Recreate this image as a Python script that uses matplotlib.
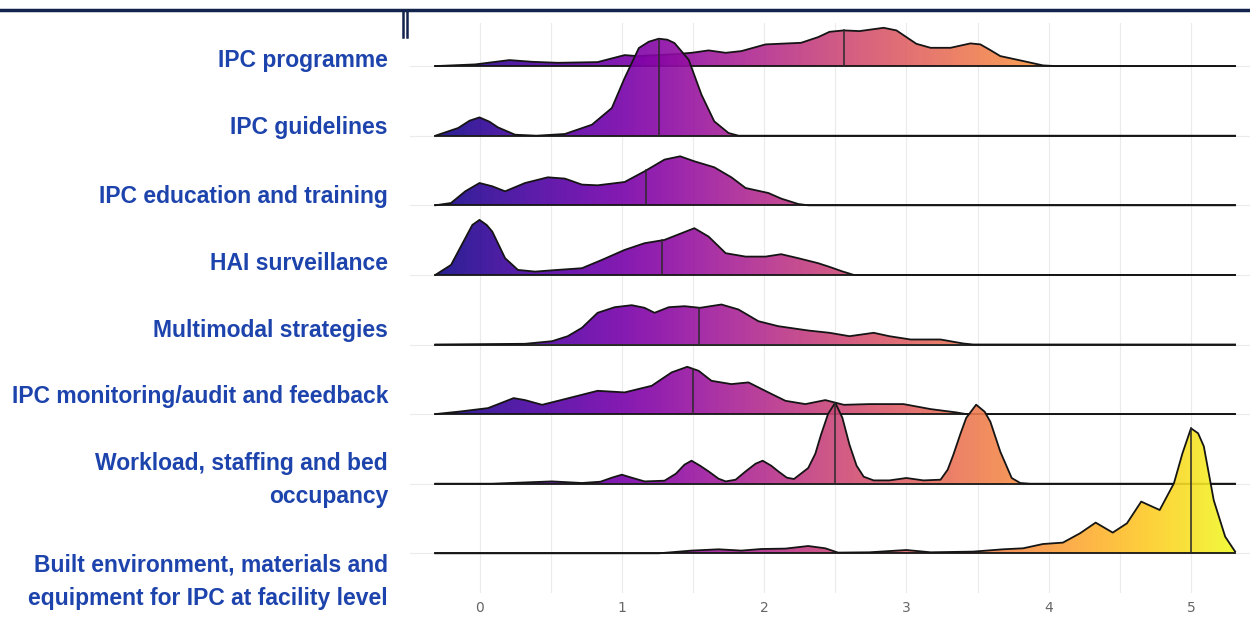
import numpy as np
import matplotlib
matplotlib.use("Agg")
import matplotlib.pyplot as plt
from matplotlib.patches import Polygon
from matplotlib.lines import Line2D

## data: ridge densities (relative heights) ##
labels = ["IPC programme", "IPC guidelines", "IPC education and training",
          "HAI surveillance", "Multimodal strategies",
          "IPC monitoring/audit and feedback",
          "Workload, staffing and bed\noccupancy",
          "Built environment, materials and\nequipment for IPC at facility level"]

x_prog = [-0.31, -0.03, 0.21, 0.37, 0.55, 0.83, 0.93, 1.02, 1.11, 1.25, 1.38, 1.49, 1.61, 1.73, 1.84,
          2.01, 2.26, 2.38, 2.46, 2.56, 2.67, 2.84, 2.93, 3.0, 3.07, 3.17, 3.31, 3.45, 3.52, 3.59, 3.66,
          3.80, 3.96, 4.05, 5.31]
d_prog = [0, 1.7, 6, 4.3, 3.3, 4, 7.7, 11, 10, 11, 12, 13.3, 15.7, 13.3, 15,
          21.7, 23.3, 29, 34.3, 35.7, 35, 38.3, 35.7, 29, 22.3, 18.3, 18.3, 22.7, 21.7, 16, 10,
          5.7, 0.7, 0, 0]

x_guide = [-0.31, -0.15, -0.07, 0.0, 0.07, 0.13, 0.25, 0.4, 0.6, 0.79, 0.93, 1.02, 1.12, 1.19, 1.26,
           1.32, 1.37, 1.47, 1.56, 1.65, 1.75, 1.82, 5.31]
d_guide = [0, 7.7, 15, 18.3, 14, 8.3, 1, 0, 1.7, 11, 27.7, 57.7, 87.7, 94, 97,
           96, 92.7, 76, 41, 14.3, 2.7, 0, 0]

x_edu = [-0.31, -0.2, -0.1, 0.0, 0.09, 0.18, 0.32, 0.48, 0.6, 0.72, 0.83, 1.02, 1.16, 1.30, 1.41,
         1.51, 1.65, 1.77, 1.87, 2.03, 2.12, 2.24, 2.31, 5.31]
d_edu = [0, 2.3, 14, 22.3, 19, 14, 22.3, 28, 26.7, 20.7, 20, 23.3, 34, 45.7, 49,
         44, 38, 28, 17.3, 12.3, 6.7, 1.3, 0, 0]

x_hai = [-0.31, -0.2, -0.1, -0.05, 0.0, 0.05, 0.09, 0.18, 0.27, 0.39, 0.55, 0.72, 0.86, 1.02, 1.16,
         1.30, 1.42, 1.51, 1.61, 1.73, 1.87, 2.01, 2.12, 2.24, 2.38, 2.46, 2.55, 2.63, 5.31]
d_hai = [0, 10, 36.7, 50, 55, 50, 43.3, 16.7, 5, 3.3, 5, 6.7, 15, 25, 31.7,
         35, 41.7, 46.7, 38.3, 21.7, 18.3, 18.3, 20.7, 16.7, 11.7, 8, 3.5, 0, 0]

x_multi = [-0.31, 0.32, 0.51, 0.62, 0.72, 0.83, 0.95, 1.07, 1.16, 1.23, 1.33, 1.44, 1.55, 1.70, 1.82,
           1.96, 2.10, 2.31, 2.46, 2.60, 2.77, 2.88, 3.03, 3.24, 3.40, 3.47, 5.31]
d_multi = [0, 0.7, 3.3, 8.3, 16.7, 31.7, 37.3, 39.3, 36.7, 31.7, 37.3, 38.3, 36.7, 40, 35,
           23.3, 18.3, 14, 11.7, 8.3, 11.7, 8.3, 5, 5, 1, 0, 0]

x_monit = [-0.31, -0.13, 0.06, 0.24, 0.32, 0.44, 0.60, 0.83, 1.02, 1.21, 1.35, 1.46, 1.54, 1.63, 1.77,
           1.89, 2.03, 2.15, 2.29, 2.43, 2.56, 2.74, 2.98, 3.17, 3.35, 3.42, 5.31]
d_monit = [0, 2.7, 6, 16, 14, 9.3, 15, 23.3, 21.7, 28.3, 41.7, 47.3, 43.3, 33.3, 30,
           31.7, 21.7, 13.3, 10, 14, 9.3, 10, 10, 5, 1.7, 0, 0]

x_work = [-0.31, 0.09, 0.51, 0.72, 0.85, 0.93, 1.0, 1.07, 1.16, 1.30, 1.38, 1.44, 1.49, 1.55, 1.61,
          1.68, 1.73, 1.80, 1.87, 1.94, 1.99, 2.05, 2.10, 2.16, 2.21, 2.31, 2.36, 2.40, 2.45, 2.50,
          2.55, 2.60, 2.65, 2.70, 2.77, 2.88, 3.0, 3.12, 3.24, 3.29, 3.33, 3.38, 3.42, 3.49, 3.55,
          3.59, 3.66, 3.74, 3.80, 3.87, 5.31]
d_work = [0, 0, 2.3, 0.7, 2, 6, 9, 6, 2.3, 3, 10, 19, 23, 18, 12.3,
          5, 2.3, 4, 12.3, 20, 23, 18, 12.3, 6, 4.7, 15.7, 30, 49, 70, 81,
          66, 39, 18, 7, 3.3, 3.3, 5.7, 3.3, 4, 14, 29, 50, 65.7, 79, 72,
          62, 32, 5.7, 0.7, 0, 0]

x_built = [-0.31, 1.26, 1.49, 1.68, 1.84, 1.98, 2.15, 2.31, 2.43, 2.52, 2.74, 3.0, 3.17, 3.47, 3.68,
           3.82, 3.96, 4.10, 4.22, 4.33, 4.45, 4.55, 4.65, 4.78, 4.88, 4.94, 5.0, 5.05, 5.09, 5.16,
           5.24, 5.31]
d_built = [0, 0, 2.7, 4, 2.7, 4.3, 4.7, 7.3, 5, 0.7, 1, 3.3, 1, 1.7, 4,
           5, 9.3, 10.7, 20, 30.7, 20.7, 30, 51.7, 43.3, 70, 100, 125, 120, 107, 53,
           16.7, 1.7]

medians = [2.56, 1.26, 1.17, 1.28, 1.545, 1.50, 2.50, 5.0]

xs = [x_prog, x_guide, x_edu, x_hai, x_multi, x_monit, x_work, x_built]
ds = [d_prog, d_guide, d_edu, d_hai, d_multi, d_monit, d_work, d_built]

# label vertical centres in pixels (layout only)
label_ypix = [60, 127, 196, 263, 330, 396, 480, 582]

W, H = 1250, 618
fig = plt.figure(figsize=(12.5, 6.18), dpi=100)
fig.patch.set_facecolor("white")
ax = fig.add_axes([410 / W, 1 - 593 / H, 840 / W, 570 / H])

scale = 69.6   # density units per row
xmin, xmax = -0.31, 5.31
grad = np.linspace(0, 1, 400).reshape(1, -1)
n = len(labels)

for i in range(n):
    base = n - 1 - i
    x = np.array(xs[i])
    y = base + np.array(ds[i]) / scale
    z = 10 + i * 3
    verts = np.column_stack([np.r_[x, x[::-1]], np.r_[y, np.full(len(x), base)]])
    poly = Polygon(verts, closed=True, facecolor="none", edgecolor="none")
    ax.add_patch(poly)
    im = ax.imshow(grad, cmap="plasma", vmin=0, vmax=1, aspect="auto", alpha=0.9,
                   extent=[xmin, xmax, base, y.max()], zorder=z, interpolation="bilinear")
    im.set_clip_path(poly)
    ax.plot(x, y, color="#151515", lw=1.3, zorder=z + 1, solid_joinstyle="round")
    ax.plot([x[0], x[-1]], [base, base], color="#151515", lw=1.3, zorder=z + 1)
    m = medians[i]
    ax.plot([m, m], [base, np.interp(m, x, y)], color="#2a2a2a", lw=1.1, zorder=z + 1.5)
    ax.axhline(base, color="#ebebeb", lw=0.8, zorder=0)

ax.set_xlim((410 - 479.5) / 142.3, (1250 - 479.5) / 142.3)
ax.set_ylim(-(593 - 553.3) / scale, (553.3 - 23) / scale)
ax.set_xticks(range(6))
ax.set_xticks(np.arange(0.5, 5.5, 1), minor=True)
ax.set_yticks([])
ax.grid(True, which="both", axis="x", color="#ebebeb", lw=0.8, zorder=0)
ax.set_axisbelow(True)
ax.tick_params(axis="x", which="both", length=0, pad=6, labelsize=10, labelcolor="#666666")
for s in ax.spines.values():
    s.set_visible(False)

for lab, yp in zip(labels, label_ypix):
    fig.text(388 / W, 1 - yp / H, lab, ha="right", va="center", fontsize=16.5,
             fontweight="bold", color="#1d43ac", linespacing=1.6, family="Liberation Sans")

# frame decoration at the top
fig.add_artist(Line2D([0, 1], [1 - 10 / H] * 2, color="#14234d", lw=2.5, transform=fig.transFigure))
for xp in (403, 407):
    fig.add_artist(Line2D([xp / W] * 2, [1 - 10 / H, 1 - 37 / H], color="#14234d", lw=1.8,
                          transform=fig.transFigure))

fig.savefig("out.png", dpi=100, facecolor="white")
